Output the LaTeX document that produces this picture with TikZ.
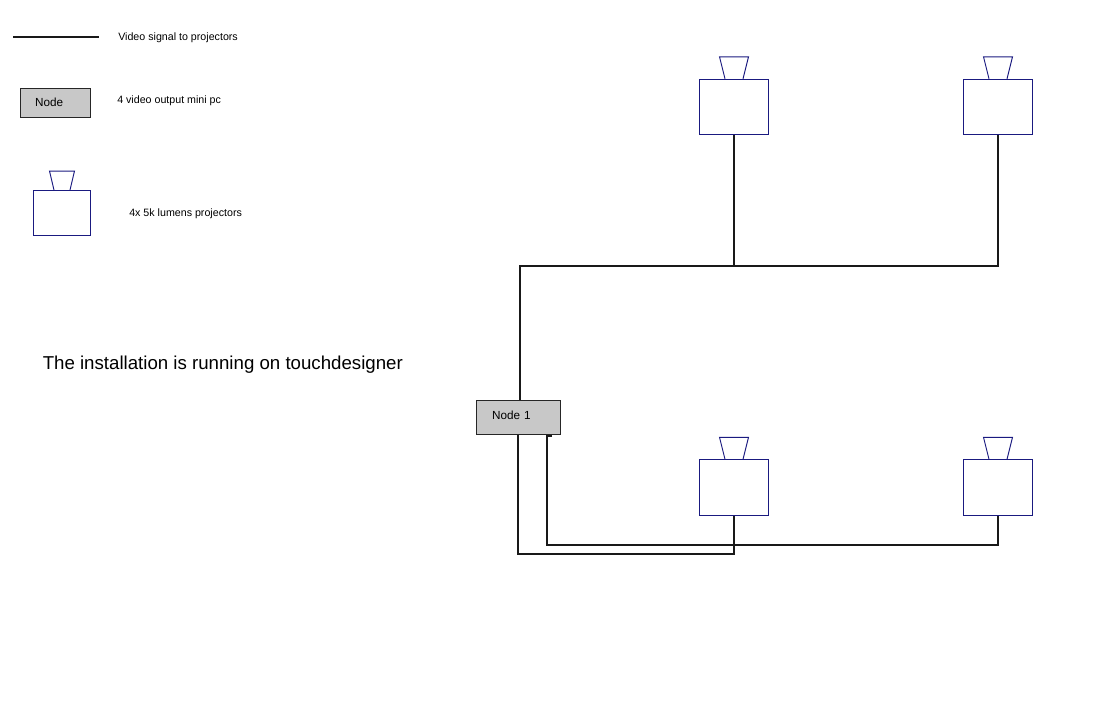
\documentclass[tikz,border=0pt]{standalone}
\usepackage{fontspec}
\setmainfont{Liberation Sans}
\definecolor{projblue}{HTML}{1A1A80}
\definecolor{nodegray}{HTML}{C8C8C8}
\begin{document}
\begin{tikzpicture}[
  x=0.75pt, y=-0.75pt,
  projbody/.style={rectangle, draw=projblue, fill=white, line width=0.7pt, minimum width=51.75pt, minimum height=41.6pt, inner sep=0pt},
  projlens/.style={draw=projblue, line width=0.7pt},
  pcbox/.style={rectangle, draw=black!85, fill=nodegray, line width=0.7pt, align=left, inner ysep=0pt, font=\fontsize{8.8}{10}\selectfont},
  signal/.style={draw=black!90, line width=1.8pt},
  caption/.style={anchor=west, inner sep=0pt, font=\fontsize{8}{9.5}\selectfont},
  ]
 \useasboundingbox (0,0) rectangle (1100,721);
 % legend
 \coordinate (keya) at (13,37);
 \coordinate (keyb) at (99,37);
 \draw [signal] (keya) -- (keyb);
 \node [caption] (keyline) at (118,38) {Video signal to projectors};
 \node [pcbox, inner xsep=11.25pt, text width=30.5pt, minimum height=21.75pt] (keynode) at (55.5,102.5) {Node};
 \node [caption] (keypc) at (117,101) {4 video output mini pc};
 \node [projbody, minimum width=42.75pt, minimum height=33.75pt] (keyproj) at (62,213) {};
 \draw [projlens] ([xshift=-6pt]keyproj.north) -- ++(-4.5,-19) -- ++(25,0) -- ++(-4.5,19);
 \node [caption] (keytext) at (129,214) {4x 5k lumens projectors};
 \node [anchor=west, inner sep=0pt, font=\fontsize{14}{17}\selectfont] (note) at (42.5,365) {The installation is running on touchdesigner};
 % projectors
 \node [projbody] (proj1) at (734,107) {};
 \node [projbody] (proj2) at (998,107) {};
 \node [projbody] (proj3) at (734,487.5) {};
 \node [projbody] (proj4) at (998,487.5) {};
 \foreach \n in {1,2,3,4} {
   \draw [projlens] ([xshift=-6.75pt]proj\n.north) -- ++(-5.5,-22) -- ++(29,0) -- ++(-5.5,22);
 }
 % mini pc
 \node [pcbox, inner xsep=12pt, text width=39.25pt, minimum height=25.9pt] (node1) at (518.3,417.3) {\raisebox{3pt}{Node 1}};
 % top pair
 \coordinate (bustop) at (520,266);
 \draw [signal, line width=2.2pt] (bustop |- node1.north) -- (bustop) -- (bustop -| proj1.south);
 \draw [signal] (bustop -| proj1.south) -- (bustop -| proj2.south) -- (proj2.south);
 \draw [signal] (proj1.south) -- (bustop -| proj1.south);
 % bottom pair
 \coordinate (busa) at (518,554);
 \coordinate (busb) at (547,545);
 \coordinate (tick) at (552,436);
 \draw [signal] (busa |- node1.south) -- (busa) -- (busa -| proj3.south) -- (proj3.south);
 \draw [signal] (tick) -- (busb |- tick) -- (busb) -- (busb -| proj4.south) -- (proj4.south);
\end{tikzpicture}
\end{document}
